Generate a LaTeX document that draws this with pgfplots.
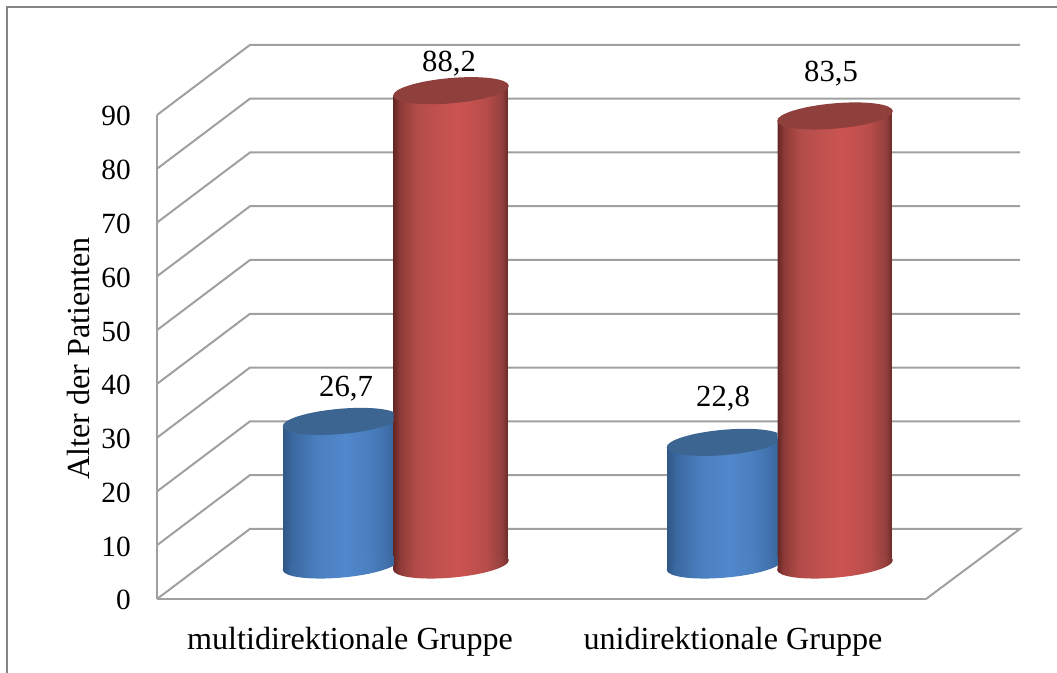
\documentclass[border=0pt]{standalone}
\usepackage{fontspec}
\setmainfont{Liberation Serif}
\usepackage{pgfplots}
\pgfplotsset{compat=1.18}

\definecolor{gridgray}{HTML}{A0A0A0}
\definecolor{framegray}{HTML}{848484}
\definecolor{bluetop}{HTML}{3D6592}
\definecolor{redtop}{HTML}{8F3F3C}

% Cylinder wall gradients; the path's width maps onto 25bp..75bp
\pgfdeclarehorizontalshading{bluewall}{100bp}{
  rgb(0bp)=(0.18,0.34,0.53);
  rgb(25bp)=(0.18,0.34,0.53);
  rgb(29bp)=(0.23,0.41,0.63);
  rgb(40bp)=(0.29,0.50,0.75);
  rgb(52bp)=(0.32,0.53,0.80);
  rgb(62bp)=(0.29,0.50,0.75);
  rgb(70bp)=(0.25,0.44,0.67);
  rgb(75bp)=(0.20,0.37,0.57);
  rgb(100bp)=(0.20,0.37,0.57)}
\pgfdeclarehorizontalshading{redwall}{100bp}{
  rgb(0bp)=(0.40,0.15,0.14);
  rgb(25bp)=(0.40,0.15,0.14);
  rgb(28bp)=(0.56,0.23,0.22);
  rgb(35bp)=(0.70,0.30,0.29);
  rgb(53bp)=(0.80,0.33,0.32);
  rgb(65bp)=(0.72,0.30,0.29);
  rgb(72bp)=(0.58,0.25,0.24);
  rgb(75bp)=(0.41,0.16,0.15);
  rgb(100bp)=(0.41,0.16,0.15)}

% Tilted end caps of the cylinders (1 px = 0.75 pt); the blue ones stop
% where the red cylinder in front of them begins
\newcommand{\capellipse}{\pgfpathellipse{\pgfpointorigin}{\pgfpoint{43.35pt}{3.75pt}}{\pgfpoint{-0.8pt}{9.45pt}}}
\newcommand{\behindred}{\pgfpathrectangle{\pgfpoint{-50pt}{-20pt}}{\pgfpoint{89.75pt}{40pt}}\pgfusepath{clip}}
\pgfdeclareplotmark{bluebase}{\begin{pgfscope}\behindred\capellipse\pgfshadepath{bluewall}{0}\pgfusepath{discard}\end{pgfscope}}
\pgfdeclareplotmark{redbase}{\capellipse\pgfshadepath{redwall}{0}\pgfusepath{discard}}
\pgfdeclareplotmark{bluecap}{\begin{pgfscope}\behindred\capellipse\pgfsetfillcolor{bluetop}\pgfusepath{fill}\end{pgfscope}}
\pgfdeclareplotmark{redcap}{\capellipse\pgfsetfillcolor{redtop}\pgfusepath{fill}}

\newcommand{\chartfont}{\fontsize{23pt}{27pt}\selectfont}
\newcommand{\tickfont}{\fontsize{22pt}{26pt}\selectfont}
\newcommand{\namefont}{\fontsize{24.1pt}{28pt}\selectfont}

\begin{document}
\begin{tikzpicture}
\useasboundingbox (0,0) rectangle (792.75pt,504.75pt);
% outer chart frame
\draw[framegray,line width=1.5pt] (5.25pt,0) -- (5.25pt,499.5pt) -- (792.75pt,499.5pt);
\begin{axis}[
  at={(117.75pt,55.5pt)}, anchor=origin,
  scale only axis, width=576.75pt, height=363pt,
  xmin=157, xmax=926, ymin=0, ymax=90,
  clip=false,
  axis x line*=bottom, axis y line*=left,
  axis line style={gridgray,line width=1.5pt,-},
  major tick length=0pt,
  xtick={350,733},
  xticklabels={multidirektionale Gruppe,unidirektionale Gruppe},
  ytick={0,10,...,90},
  /pgf/number format/assume math mode=true,
  tick label style={font=\tickfont},
  yticklabel style={inner sep=0pt,xshift=-19.5pt,yshift=-1pt},
  xticklabel style={font=\namefont,anchor=base,inner sep=0pt,yshift=-38pt},
  every axis y label/.style={at={(axis cs:79,44.7)},rotate=90,anchor=center,font=\namefont},
  ylabel={Alter der Patienten},
]
% walls and floor
\addplot[gridgray,line width=1.5pt] coordinates {(926,0) (1020,13.04) (250,13.04) (157,0)};
\addplot[gridgray,line width=1.5pt] coordinates {(157,10) (250,23.04) (1020,23.04)};
\addplot[gridgray,line width=1.5pt] coordinates {(157,20) (250,33.04) (1020,33.04)};
\addplot[gridgray,line width=1.5pt] coordinates {(157,30) (250,43.04) (1020,43.04)};
\addplot[gridgray,line width=1.5pt] coordinates {(157,40) (250,53.04) (1020,53.04)};
\addplot[gridgray,line width=1.5pt] coordinates {(157,50) (250,63.04) (1020,63.04)};
\addplot[gridgray,line width=1.5pt] coordinates {(157,60) (250,73.04) (1020,73.04)};
\addplot[gridgray,line width=1.5pt] coordinates {(157,70) (250,83.04) (1020,83.04)};
\addplot[gridgray,line width=1.5pt] coordinates {(157,80) (250,93.04) (1020,93.04)};
\addplot[gridgray,line width=1.5pt] coordinates {(157,90) (250,103.04) (1020,103.04)};

% first series: base ellipses, walls, caps
\addplot[only marks,mark=bluebase,yshift=25.5pt] coordinates {(340.5,0) (724.5,0)};
\addplot[draw=none,shading=bluewall,yshift=25.5pt] coordinates {(283,25.77) (283,-0.93) (398,0.93) (398,27.63)} --cycle;
\addplot[draw=none,shading=bluewall,yshift=25.5pt] coordinates {(667,21.87) (667,-0.93) (782,0.93) (782,23.73)} --cycle;
\addplot[only marks,mark=bluecap,yshift=25.5pt] coordinates {(340.5,26.7) (724.5,22.8)};

% second series
\addplot[only marks,mark=redbase,yshift=25.5pt] coordinates {(451,0) (835,0)};
\addplot[draw=none,shading=redwall,yshift=25.5pt] coordinates {(393.5,87.27) (393.5,-0.93) (508.5,0.93) (508.5,89.13)} --cycle;
\addplot[draw=none,shading=redwall,yshift=25.5pt] coordinates {(777.5,82.57) (777.5,-0.93) (892.5,0.93) (892.5,84.43)} --cycle;
\addplot[only marks,mark=redcap,yshift=25.5pt] coordinates {(451,88.2) (835,83.5)};

% value labels
\node[font=\chartfont,anchor=base] at (axis cs:346,37.62) {26,7};
\node[font=\chartfont,anchor=base] at (axis cs:449,98.14) {88,2};
\node[font=\chartfont,anchor=base] at (axis cs:723,35.75) {22,8};
\node[font=\chartfont,anchor=base] at (axis cs:831,96.3) {83,5};
\end{axis}
\end{tikzpicture}
\end{document}
